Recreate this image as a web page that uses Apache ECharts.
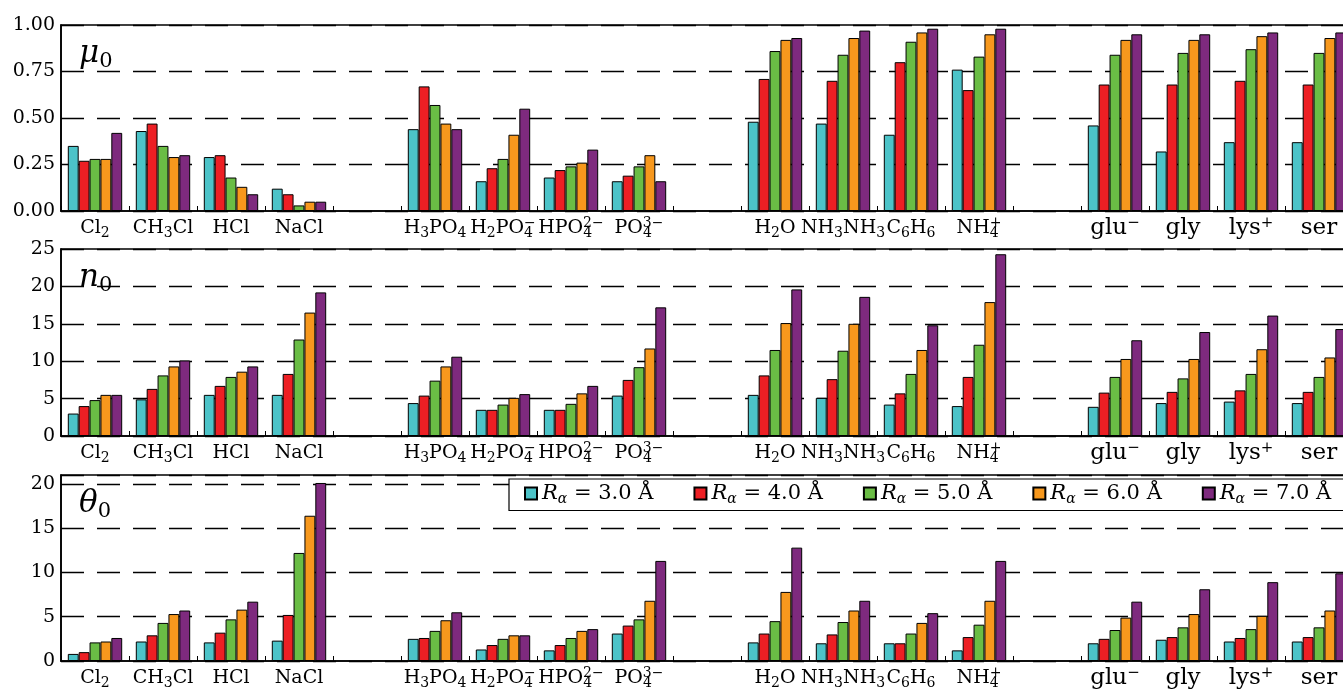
<!DOCTYPE html>
<html>
<head>
<meta charset="utf-8">
<script src="https://cdn.jsdelivr.net/npm/echarts@6/dist/echarts.min.js"></script>
<style>
  html, body { margin: 0; background: #fff; }
  #chart { width: 1343px; height: 692px; }
</style>
</head>
<body>
<div id="chart"></div>
<script>
// categories (gapN = empty slot between the groups)
var categories = ['Cl2', 'CH3Cl', 'HCl', 'NaCl', 'gap1',
  'H3PO4', 'H2PO4-', 'HPO4 2-', 'PO4 3-', 'gap2',
  'H2O', 'NH3NH3', 'C6H6', 'NH4+', 'gap3',
  'glu-', 'gly', 'lys+', 'ser'];
var radii = ['3.0', '4.0', '5.0', '6.0', '7.0'];
var colors = ['#4CC3C8', '#ED1F24', '#6ABD45', '#F7981D', '#7E2A7E'];

// mu0
var mu0_r3 = [0.35, 0.43, 0.29, 0.12, null, 0.44, 0.16, 0.18, 0.16, null, 0.48, 0.47, 0.41, 0.76, null, 0.46, 0.32, 0.37, 0.37];
var mu0_r4 = [0.27, 0.47, 0.30, 0.09, null, 0.67, 0.23, 0.22, 0.19, null, 0.71, 0.70, 0.80, 0.65, null, 0.68, 0.68, 0.70, 0.68];
var mu0_r5 = [0.28, 0.35, 0.18, 0.03, null, 0.57, 0.28, 0.24, 0.24, null, 0.86, 0.84, 0.91, 0.83, null, 0.84, 0.85, 0.87, 0.85];
var mu0_r6 = [0.28, 0.29, 0.13, 0.05, null, 0.47, 0.41, 0.26, 0.30, null, 0.92, 0.93, 0.96, 0.95, null, 0.92, 0.92, 0.94, 0.93];
var mu0_r7 = [0.42, 0.30, 0.09, 0.05, null, 0.44, 0.55, 0.33, 0.16, null, 0.93, 0.97, 0.98, 0.98, null, 0.95, 0.95, 0.96, 0.96];

// n0
var n0_r3 = [3.0, 4.9, 5.5, 5.5, null, 4.4, 3.5, 3.5, 5.4, null, 5.5, 5.1, 4.2, 4.0, null, 3.9, 4.4, 4.6, 4.4];
var n0_r4 = [4.0, 6.3, 6.7, 8.3, null, 5.4, 3.5, 3.5, 7.5, null, 8.1, 7.6, 5.7, 7.9, null, 5.8, 5.9, 6.1, 5.9];
var n0_r5 = [4.8, 8.1, 7.9, 12.9, null, 7.4, 4.2, 4.3, 9.2, null, 11.5, 11.4, 8.3, 12.2, null, 7.9, 7.7, 8.3, 7.9];
var n0_r6 = [5.5, 9.3, 8.6, 16.5, null, 9.3, 5.1, 5.7, 11.7, null, 15.1, 15.0, 11.5, 17.9, null, 10.3, 10.3, 11.6, 10.5];
var n0_r7 = [5.5, 10.1, 9.3, 19.2, null, 10.6, 5.6, 6.7, 17.2, null, 19.6, 18.6, 14.8, 24.3, null, 12.8, 13.9, 16.1, 14.3];

// theta0
var th0_r3 = [0.8, 2.2, 2.1, 2.3, null, 2.5, 1.3, 1.2, 3.1, null, 2.1, 2.0, 2.0, 1.2, null, 2.0, 2.4, 2.2, 2.2];
var th0_r4 = [1.0, 2.9, 3.2, 5.2, null, 2.6, 1.8, 1.8, 4.0, null, 3.1, 3.0, 2.0, 2.7, null, 2.5, 2.7, 2.6, 2.7];
var th0_r5 = [2.1, 4.3, 4.7, 12.2, null, 3.4, 2.5, 2.6, 4.7, null, 4.5, 4.4, 3.1, 4.1, null, 3.5, 3.8, 3.6, 3.8];
var th0_r6 = [2.2, 5.3, 5.8, 16.4, null, 4.6, 2.9, 3.4, 6.8, null, 7.8, 5.7, 4.3, 6.8, null, 4.9, 5.3, 5.1, 5.7];
var th0_r7 = [2.6, 5.7, 6.7, 20.1, null, 5.5, 2.9, 3.6, 11.3, null, 12.8, 6.8, 5.4, 11.3, null, 6.7, 8.1, 8.9, 9.9];

var panels = [
  [mu0_r3, mu0_r4, mu0_r5, mu0_r6, mu0_r7],
  [n0_r3, n0_r4, n0_r5, n0_r6, n0_r7],
  [th0_r3, th0_r4, th0_r5, th0_r6, th0_r7]
];

var catLabels = {
  'Cl2': '{n|Cl}{s|2}',
  'CH3Cl': '{n|CH}{s|3}{n|Cl}',
  'HCl': '{n|HCl}',
  'NaCl': '{n|NaCl}',
  'H3PO4': '{n|H}{s|3}{n|PO}{s|4}',
  'H2PO4-': '{n|H}{s|2}{n|PO}{s|4}{u|−}',
  'HPO4 2-': '{n|HPO}{s|4}{u|2−}',
  'PO4 3-': '{n|PO}{s|4}{u|3−}',
  'H2O': '{n|H}{s|2}{n|O}',
  'NH3NH3': '{n|NH}{s|3}{n|NH}{s|3}',
  'C6H6': '{n|C}{s|6}{n|H}{s|6}',
  'NH4+': '{n|NH}{s|4}{u|+}',
  'glu-': '{a|glu}{p|−}',
  'gly': '{a|gly}',
  'lys+': '{a|lys}{p|+}',
  'ser': '{a|ser}'
};

var FONT = "'DejaVu Serif', serif";
var labelRich = {
  n: { fontFamily: FONT, fontSize: 19, color: '#000', lineHeight: 24, verticalAlign: 'middle' },
  s: { fontFamily: FONT, fontSize: 14, color: '#000', lineHeight: 16, verticalAlign: 'bottom' },
  u: { fontFamily: FONT, fontSize: 14, color: '#000', lineHeight: 12, verticalAlign: 'top', padding: [0, 0, 0, -9] },
  a: { fontFamily: FONT, fontSize: 23, color: '#000', lineHeight: 24, verticalAlign: 'middle' },
  p: { fontFamily: FONT, fontSize: 15, color: '#000', lineHeight: 14, verticalAlign: 'top' }
};

var tops = [25, 249, 475];
var heights = [186, 187, 186];
var yMax = [1, 25, 21];
var yInt = [0.25, 5, 5];
var titles = ['μ', 'n', 'θ'];

var grids = [], xAxes = [], yAxes = [], series = [], titleList = [];
for (var p = 0; p < 3; p++) {
  grids.push({
    left: 61, top: tops[p], width: 1292, height: heights[p],
    show: true, borderColor: '#000', borderWidth: 1.6,
    outerBoundsMode: 'none'
  });
  xAxes.push({
    type: 'category', gridIndex: p, data: categories,
    axisLine: { lineStyle: { color: '#000', width: 1.6 } },
    axisTick: { show: true, inside: true, length: 5, interval: 0, lineStyle: { color: '#000' } },
    axisLabel: {
      interval: 0, margin: 5,
      formatter: function (v) { return catLabels[v] || ''; },
      rich: labelRich
    }
  });
  yAxes.push({
    type: 'value', gridIndex: p, min: 0, max: yMax[p], interval: yInt[p],
    axisLine: { show: true, lineStyle: { color: '#000', width: 1.6 } },
    axisTick: { show: false },
    axisLabel: {
      margin: 6, color: '#000', fontFamily: FONT, fontSize: 19,
      showMaxLabel: p !== 2,
      formatter: (function (pp) {
        return function (v) {
          if (pp === 0) return v.toFixed(2);
          return v % 5 === 0 ? String(v) : '';
        };
      })(p)
    },
    splitLine: { show: true, lineStyle: { color: '#000', width: 1.3, type: [23, 13] } }
  });
  titleList.push({
    text: '{m|' + titles[p] + '}{z|0}',
    left: 74, top: tops[p] + 6,
    textStyle: {
      fontWeight: 'normal',
      rich: {
        m: { fontFamily: FONT, fontSize: 31, fontStyle: 'italic', fontWeight: 'normal', color: '#000', lineHeight: 36, verticalAlign: 'middle' },
        z: { fontFamily: FONT, fontSize: 21, fontWeight: 'normal', color: '#000', lineHeight: 20, verticalAlign: 'bottom' }
      }
    }
  });
  for (var r = 0; r < 5; r++) {
    series.push({
      type: 'bar',
      name: 'R' + radii[r],
      xAxisIndex: p, yAxisIndex: p,
      data: panels[p][r],
      barGap: '0%', barCategoryGap: '20%',
      itemStyle: { color: colors[r], borderColor: '#000', borderWidth: 1 }
    });
  }
}

var chart = echarts.init(document.getElementById('chart'), null, { renderer: 'canvas' });
chart.setOption({
  animation: false,
  backgroundColor: '#fff',
  textStyle: { fontFamily: FONT },
  title: titleList,
  grid: grids,
  xAxis: xAxes,
  yAxis: yAxes,
  legend: {
    left: 509, top: 479, width: 950,
    orient: 'horizontal',
    icon: 'rect', itemWidth: 12, itemHeight: 12, itemGap: 40,
    padding: [4, 14, 4, 15],
    borderColor: '#000', borderWidth: 1.2, backgroundColor: '#fff',
    data: radii.map(function (x) { return 'R' + x; }),
    formatter: function (name) {
      return '{r|R}{al|α}{t| = ' + name.slice(1) + ' Å}';
    },
    textStyle: {
      fontFamily: FONT,
      rich: {
        r: { fontFamily: FONT, fontSize: 21, fontStyle: 'italic', color: '#000', lineHeight: 26, verticalAlign: 'middle' },
        al: { fontFamily: FONT, fontSize: 14, fontStyle: 'italic', color: '#000', lineHeight: 14, verticalAlign: 'bottom' },
        t: { fontFamily: FONT, fontSize: 21, color: '#000', lineHeight: 26, verticalAlign: 'middle' }
      }
    }
  },
  series: series
});
</script>
</body>
</html>
